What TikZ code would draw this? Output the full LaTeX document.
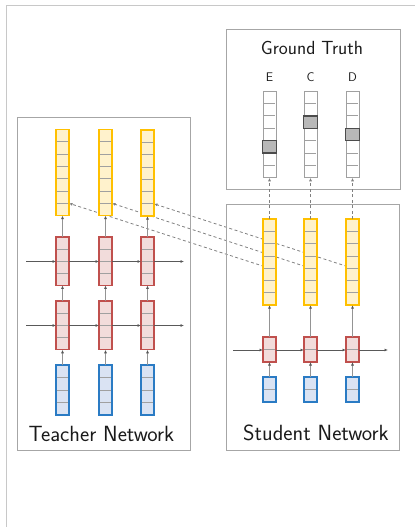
\documentclass[tikz,border=0pt]{standalone}
\usetikzlibrary{arrows.meta,calc}
\definecolor{yfill}{HTML}{FFF2CC}
\definecolor{ydraw}{HTML}{FFC000}
\definecolor{rfill}{HTML}{F2DCDB}
\definecolor{rdraw}{HTML}{C0504D}
\definecolor{bfill}{HTML}{DAE3F3}
\definecolor{bdraw}{HTML}{2A7BC4}
\definecolor{panelgray}{HTML}{A6A6A6}
\definecolor{outergray}{HTML}{C8C8C8}
\definecolor{cellgray}{HTML}{A0A0A0}
\definecolor{txt}{HTML}{1A1A1A}
\pgfdeclarelayer{bg}
\pgfsetlayers{bg,main}
\tikzset{
  colbase/.style={rectangle, inner sep=0pt, outer sep=0pt, minimum width=13pt},
  ycol/.style={colbase, fill=yfill, draw=ydraw, line width=1.3pt},
  rcol/.style={colbase, fill=rfill, draw=rdraw, line width=1.2pt},
  bcol/.style={colbase, fill=bfill, draw=bdraw, line width=1.2pt},
  gcol/.style={colbase, fill=white, draw=cellgray, line width=0.7pt},
  hlcell/.style={rectangle, inner sep=0pt, outer sep=0pt, minimum width=13.5pt, minimum height=12.4pt, fill=black!28, draw=black!70, line width=1.4pt},
  cellline/.style={draw=cellgray, line width=0.8pt},
  panel/.style={rectangle, draw=panelgray, line width=0.9pt, inner sep=0pt, outer sep=0pt},
  harrow/.style={draw=black!65, line width=0.7pt, -{Latex[length=3.5pt,width=3pt]}},
  varrow/.style={draw=black!42, line width=1.1pt, -{Latex[length=3.5pt,width=3pt,color=black!65]}},
  darrow/.style={draw=black!50, line width=0.8pt, dash pattern=on 3pt off 2.5pt, -{Latex[length=3.5pt,width=3pt]}},
  bigtxt/.style={font=\sffamily\fontsize{22}{26}\selectfont, text=txt, inner sep=0pt},
  midtxt/.style={font=\sffamily\fontsize{19}{22}\selectfont, text=txt, inner sep=0pt},
  smalltxt/.style={font=\sffamily\fontsize{12.5}{14}\selectfont, text=txt, inner sep=0pt},
}
\newcommand\vcol[6]{% name, x, ytop, ncells, cellh, style
  \node[#6, minimum height={#4*#5pt}, anchor=north] (#1) at (#2,#3) {};
  \pgfmathtruncatemacro\nmone{#4-1}
  \foreach \k in {1,...,\nmone}
    \draw[cellline] ([yshift=-\k*#5pt, xshift=0.6pt]#1.north west) -- ([yshift=-\k*#5pt, xshift=-0.6pt]#1.north east);
}
\begin{document}
\begin{tikzpicture}[x=1pt,y=-1pt]
\useasboundingbox (0,0) rectangle (415,527);
\draw[outergray, line width=1.5pt] (6.5,527) -- (6.5,5.5) -- (415,5.5);

% panels
\node[panel, minimum width=173pt, minimum height=333pt] (teacher) at (104,283.5) {};
\node[panel, minimum width=173pt, minimum height=246pt] (student) at (312.5,327) {};
\node[panel, minimum width=174pt, minimum height=160pt] (gt) at (313,109) {};

% labels
\node[bigtxt] (tlabel) at (101.5,434) {Teacher Network};
\node[bigtxt] (slabel) at (316,433) {Student Network};
\node[midtxt] (gtlabel) at (312,47.5) {Ground Truth};
\node[smalltxt] (le) at (269.5,77) {E};
\node[smalltxt] (lc) at (310.5,77) {C};
\node[smalltxt] (ld) at (352.5,77) {D};

% teacher columns
\vcol{ty1}{62.5}{129.5}{7}{12.3}{ycol}
\vcol{ty2}{105.5}{129.5}{7}{12.3}{ycol}
\vcol{ty3}{147.5}{130}{7}{12.3}{ycol}
\vcol{tu1}{62.5}{237}{4}{12.1}{rcol}
\vcol{tu2}{105.5}{237}{4}{12.1}{rcol}
\vcol{tu3}{147.5}{237}{4}{12.1}{rcol}
\vcol{tl1}{62.5}{301}{4}{12.2}{rcol}
\vcol{tl2}{105.5}{301}{4}{12.2}{rcol}
\vcol{tl3}{147.5}{301}{4}{12.2}{rcol}
\vcol{tb1}{62.5}{365}{4}{12.5}{bcol}
\vcol{tb2}{105.5}{365}{4}{12.5}{bcol}
\vcol{tb3}{147.5}{365}{4}{12.5}{bcol}

% student columns
\vcol{sy1}{269.5}{219}{7}{12.3}{ycol}
\vcol{sy2}{310.5}{219}{7}{12.3}{ycol}
\vcol{sy3}{352.5}{219}{7}{12.3}{ycol}
\vcol{sr1}{269.5}{337}{2}{12.5}{rcol}
\vcol{sr2}{310.5}{337}{2}{12.5}{rcol}
\vcol{sr3}{352.5}{337}{2}{12.5}{rcol}
\vcol{sb1}{269.5}{377}{2}{12.5}{bcol}
\vcol{sb2}{310.5}{377}{2}{12.5}{bcol}
\vcol{sb3}{352.5}{377}{2}{12.5}{bcol}

% ground truth columns
\vcol{g1}{269.5}{91}{7}{12.4}{gcol}
\vcol{g2}{310.5}{91}{7}{12.4}{gcol}
\vcol{g3}{352.5}{91}{7}{12.4}{gcol}
\node[hlcell] (h1) at ([yshift=-4.5*12.4pt]g1.north) {};
\node[hlcell] (h2) at ([yshift=-2.5*12.4pt]g2.north) {};
\node[hlcell] (h3) at ([yshift=-3.5*12.4pt]g3.north) {};

% free ends of horizontal arrows
\coordinate (tin1) at (26,261.5);
\coordinate (tout1) at (184,261.5);
\coordinate (tin2) at (26,325.5);
\coordinate (tout2) at (184,325.5);
\coordinate (sin) at (233,350);
\coordinate (sout) at (388,350);

% teacher horizontal arrows
\draw[harrow] (tin1) -- (tin1 -| tu1.west);
\draw[harrow] (tin1 -| tu1.east) -- (tin1 -| tu2.west);
\draw[harrow] (tin1 -| tu2.east) -- (tin1 -| tu3.west);
\draw[harrow] (tin1 -| tu3.east) -- (tout1);
\draw[harrow] (tin2) -- (tin2 -| tl1.west);
\draw[harrow] (tin2 -| tl1.east) -- (tin2 -| tl2.west);
\draw[harrow] (tin2 -| tl2.east) -- (tin2 -| tl3.west);
\draw[harrow] (tin2 -| tl3.east) -- (tout2);
% student horizontal arrows
\draw[harrow] (sin) -- (sin -| sr1.west);
\draw[harrow] (sin -| sr1.east) -- (sin -| sr2.west);
\draw[harrow] (sin -| sr2.east) -- (sin -| sr3.west);
\draw[harrow] (sin -| sr3.east) -- (sout);

% vertical arrows
\foreach \i in {1,2,3} {
  \draw[varrow] (tb\i.north) -- (tl\i.south);
  \draw[varrow] (tl\i.north) -- (tu\i.south);
  \draw[varrow] (tu\i.north) -- (ty\i.south);
  \draw[varrow] (sb\i.north) -- (sr\i.south);
  \draw[varrow] (sr\i.north) -- (sy\i.south);
  \draw[darrow] (sy\i.north) -- (g\i.south);
}

% distillation arrows (behind columns)
\begin{pgfonlayer}{bg}
\foreach \i in {1,2,3} {
  \draw[darrow] ([yshift=-4*12.3pt]sy\i.north) -- ([yshift=-6*12.3pt]ty\i.north east);
}
\end{pgfonlayer}
\end{tikzpicture}
\end{document}
